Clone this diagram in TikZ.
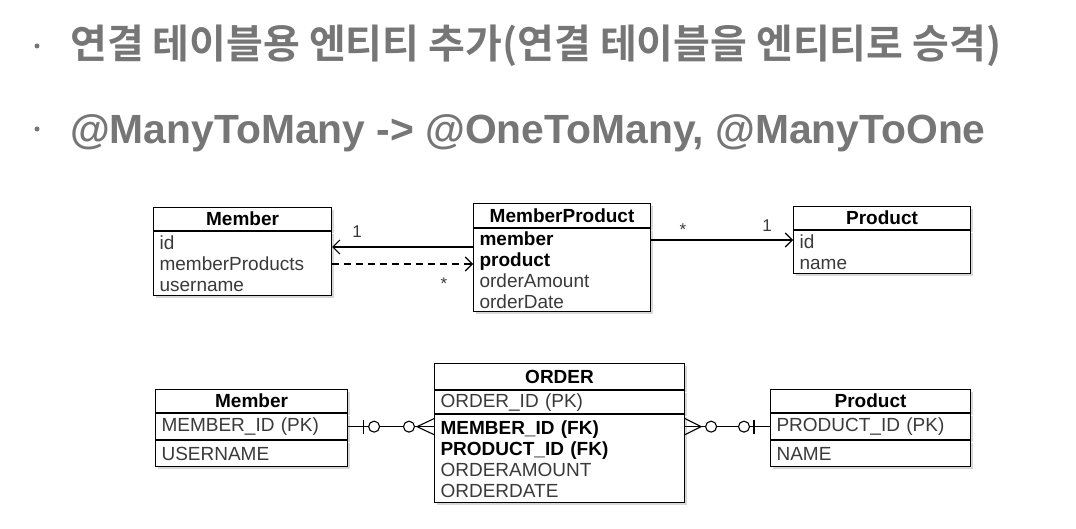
\documentclass[tikz,border=0pt]{standalone}
\usepackage{fontspec}
\setmainfont{Liberation Sans}
\newfontfamily\krfont{Noto Sans CJK KR Bold}
\usetikzlibrary{positioning,arrows.meta,shadows}
\definecolor{titlegray}{HTML}{767676}
\definecolor{attrgray}{HTML}{3A3A3A}
\tikzset{
  box/.style={draw, line width=1.1pt, fill=white, inner xsep=6pt, inner ysep=0pt,
    drop shadow={shadow xshift=2pt, shadow yshift=-2pt, opacity=.3}},
  head/.style={box, font=\fontsize{19}{21}\selectfont\bfseries, anchor=north west},
  attr/.style={box, font=\fontsize{19}{21}\selectfont, text=attrgray, align=left},
  mult/.style={font=\fontsize{17}{17}\selectfont, text=attrgray, inner sep=0pt},
  uml/.style={line width=1.1pt, -{Straight Barb[length=7pt,width=14pt,line width=1.1pt]}},
  erline/.style={line width=1.1pt},
  title/.style={anchor=base west, text=titlegray, inner sep=0pt},
}
\begin{document}
\begin{tikzpicture}[x=1pt, y=-1pt]
  \useasboundingbox[fill=white] (0,0) rectangle (1076,529);

  \fill[titlegray] (37,46) circle (2.5pt);
  \fill[titlegray] (37,129) circle (2.5pt);
  \node[title, font=\krfont\fontsize{40}{40}\selectfont] (line1) at (70,59) {연결 테이블용 엔티티 추가(연결 테이블을 엔티티로 승격)};
  \node[title, font=\fontsize{40.8}{41}\selectfont\bfseries] (line2) at (70,144) {@ManyToMany -> @OneToMany, @ManyToOne};

  % entity model
  \node[head, minimum width=178pt, minimum height=23pt] (member) at (153,207) {Member};
  \node[attr, below=0pt of member, text width=166pt, minimum height=64pt] (memberAttr) {id\\memberProducts\\username};

  \node[head, minimum width=177pt, minimum height=24pt] (memberProduct) at (473,203) {MemberProduct};
  \node[attr, below=0pt of memberProduct, text width=165pt, minimum height=83pt] (memberProductAttr)
    {{\color{black}\bfseries member}\\{\color{black}\bfseries product}\\orderAmount\\orderDate};

  \node[head, minimum width=177pt, minimum height=23pt] (product) at (793,206) {Product};
  \node[attr, below=0pt of product, text width=165pt, minimum height=43pt] (productAttr) {id\\name};

  \draw[uml] (memberProductAttr.west |- 0,247) -- (memberAttr.east |- 0,247);
  \draw[uml, dash pattern=on 7pt off 5pt] (memberAttr.east |- 0,264) -- (memberProductAttr.west |- 0,264);
  \draw[uml] (memberProductAttr.east |- 0,240) -- (productAttr.west |- 0,240);
  \node[mult] (oneMember) at (357,232) {1};
  \node[mult] (manyMember) at (444,284) {*};
  \node[mult] (manyProduct) at (683,230) {*};
  \node[mult] (oneProduct) at (767,226) {1};

  % table model
  \node[head, minimum width=192pt, minimum height=23pt] (memberT) at (155,389) {Member};
  \node[attr, below=0pt of memberT, text width=180pt, minimum height=26pt] (memberPk) {MEMBER\_ID (PK)};
  \node[attr, below=0pt of memberPk, text width=180pt, minimum height=26pt] (memberCol) {USERNAME};

  \node[head, minimum width=250pt, minimum height=26pt] (order) at (434,363) {ORDER};
  \node[attr, below=0pt of order, text width=238pt, minimum height=23pt] (orderPk) {ORDER\_ID (PK)};
  \node[attr, below=0pt of orderPk, text width=238pt, minimum height=88pt] (orderCols)
    {{\color{black}\bfseries MEMBER\_ID (FK)}\\{\color{black}\bfseries PRODUCT\_ID (FK)}\\ORDERAMOUNT\\ORDERDATE};

  \node[head, minimum width=200pt, minimum height=23pt] (productT) at (770,389) {Product};
  \node[attr, below=0pt of productT, text width=188pt, minimum height=26pt] (productPk) {PRODUCT\_ID (PK)};
  \node[attr, below=0pt of productPk, text width=188pt, minimum height=26pt] (productCol) {NAME};

  \coordinate (orderIn) at (orderCols.west |- memberPk.east);
  \coordinate (orderOut) at (orderCols.east |- productPk.west);

  \draw[erline] (memberPk.east) -- (orderIn);
  \draw[erline] ([xshift=15pt,yshift=7pt]memberPk.east) -- ([xshift=15pt,yshift=-7pt]memberPk.east);
  \draw[erline, fill=white] ([xshift=26pt]memberPk.east) circle (5.5pt);
  \draw[erline, fill=white] ([xshift=-25pt]orderIn) circle (5.5pt);
  \draw[erline] ([yshift=8pt]orderIn) -- ([xshift=-17pt]orderIn) -- ([yshift=-8pt]orderIn);

  \draw[erline] (orderOut) -- (productPk.west);
  \draw[erline] ([yshift=8pt]orderOut) -- ([xshift=16pt]orderOut) -- ([yshift=-8pt]orderOut);
  \draw[erline, fill=white] ([xshift=26pt]orderOut) circle (5.5pt);
  \draw[erline, fill=white] ([xshift=-26pt]productPk.west) circle (5.5pt);
  \draw[erline] ([xshift=-16pt,yshift=7pt]productPk.west) -- ([xshift=-16pt,yshift=-7pt]productPk.west);
\end{tikzpicture}
\end{document}
